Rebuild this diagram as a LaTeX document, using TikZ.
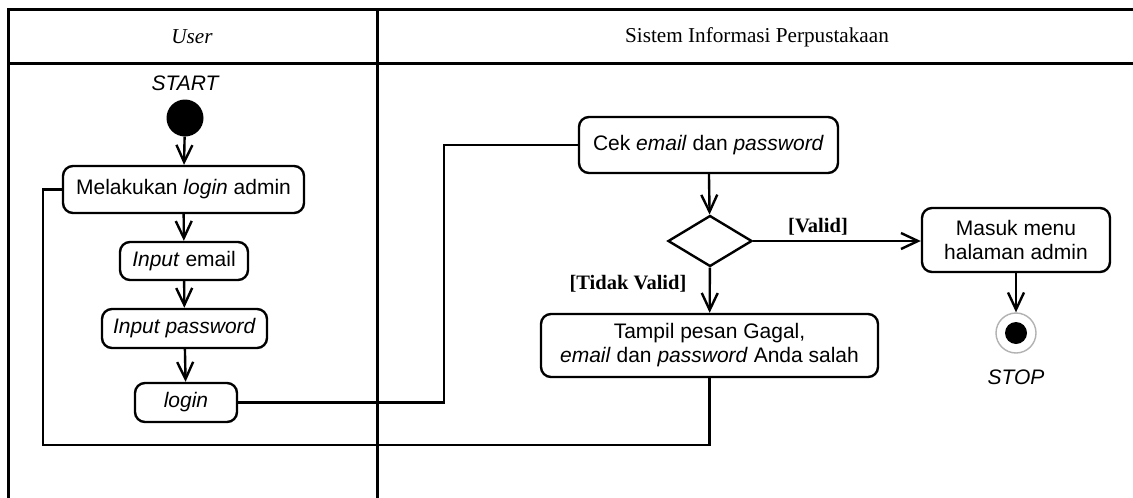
\documentclass[tikz,border=0pt]{standalone}
\usepackage{fontspec}
\setmainfont{Liberation Serif}
\setsansfont{Liberation Sans}
\usetikzlibrary{arrows.meta,shapes.geometric,calc}

\tikzset{
  lane/.style={line width=3pt, line cap=rect},
  act/.style={draw, line width=2.4pt, rounded corners=10pt, fill=white,
    align=center, inner sep=0pt, font=\sffamily\fontsize{21}{24}\selectfont},
  flow/.style={line width=2.4pt, -{Straight Barb[length=17pt,width=16pt,line width=2.4pt]}},
  link/.style={line width=2.4pt},
  guard/.style={font=\bfseries\fontsize{20.5}{23}\selectfont},
  caption/.style={font=\sffamily\itshape\fontsize{21}{24}\selectfont},
  header/.style={font=\fontsize{21.2}{24}\selectfont}
}

\begin{document}
\begin{tikzpicture}[x=1pt,y=-1pt]
\useasboundingbox (0,0) rectangle (1133,498);
\fill[white] (0,0) rectangle (1133,498);

% swimlane frame
\draw[lane] (8,9) -- (1133,9);
\draw[lane] (8,63) -- (1133,63);
\draw[lane] (8,9) -- (8,498);
\draw[lane] (377,9) -- (377,498);
\node[header] (hUser) at (192,37) {\itshape User};
\node[header] (hSys) at (757,37) {Sistem Informasi Perpustakaan};

% user lane
\node[caption] (lStart) at (185,83) {START};
\node[circle, fill=black, minimum size=37pt, inner sep=0pt] (start) at (185,118) {};
\node[act, minimum width=241pt, minimum height=47pt] (melakukan) at (183.5,189.5) {Melakukan \textit{login} admin};
\node[act, minimum width=128pt, minimum height=38pt] (inemail) at (184,261) {\textit{Input} email};
\node[act, minimum width=165pt, minimum height=39pt] (inpass) at (184.5,328.5) {\textit{Input password}};
\node[act, minimum width=102pt, minimum height=39pt] (login) at (186,402.5) {\textit{login}};

% system lane
\node[act, minimum width=259pt, minimum height=56pt] (cek) at (708.5,145) {Cek \textit{email} dan \textit{password}};
\node[diamond, draw, line width=2.4pt, fill=white, minimum width=84pt, minimum height=51pt, inner sep=0pt] (dec) at (710,241) {};
\node[act, minimum width=188pt, minimum height=64pt] (masuk) at (1016,240) {Masuk menu\\halaman admin};
\node[act, minimum width=337pt, minimum height=63pt] (tampil) at (709.5,345.5) {Tampil pesan Gagal,\\\textit{email} dan \textit{password} Anda salah};
\node[circle, draw=black!30, line width=1.4pt, fill=white, minimum size=40pt, inner sep=0pt] (stop) at (1016,333) {};
\node[circle, fill=black, minimum size=22pt, inner sep=0pt] (stopdot) at (stop.center) {};
\node[caption] (lStop) at (1016,377) {STOP};

\node[guard] (gValid) at (818,227) {[Valid]};
\node[guard] (gTidak) at (628,284) {[Tidak Valid]};

% bends of the return paths
\coordinate (jx) at (444,0);
\coordinate (loopx) at (43,0);
\coordinate (loopy) at (0,445);

% control flow
\draw[flow] (start) -- (melakukan);
\draw[flow] (melakukan) -- (inemail);
\draw[flow] (inemail) -- (inpass);
\draw[flow] (inpass) -- (login);
\draw[link] (login.east) -- (login.east -| jx) |- (cek.west);
\draw[flow] (cek) -- (dec);
\draw[flow] (dec.east) -- (masuk.west |- dec.east);
\draw[flow] (dec) -- (tampil);
\draw[flow] (masuk) -- (stop);
\draw[link] (tampil.south) -- (tampil.south |- loopy) -- (loopx |- loopy) |- (melakukan.west);
\end{tikzpicture}
\end{document}
